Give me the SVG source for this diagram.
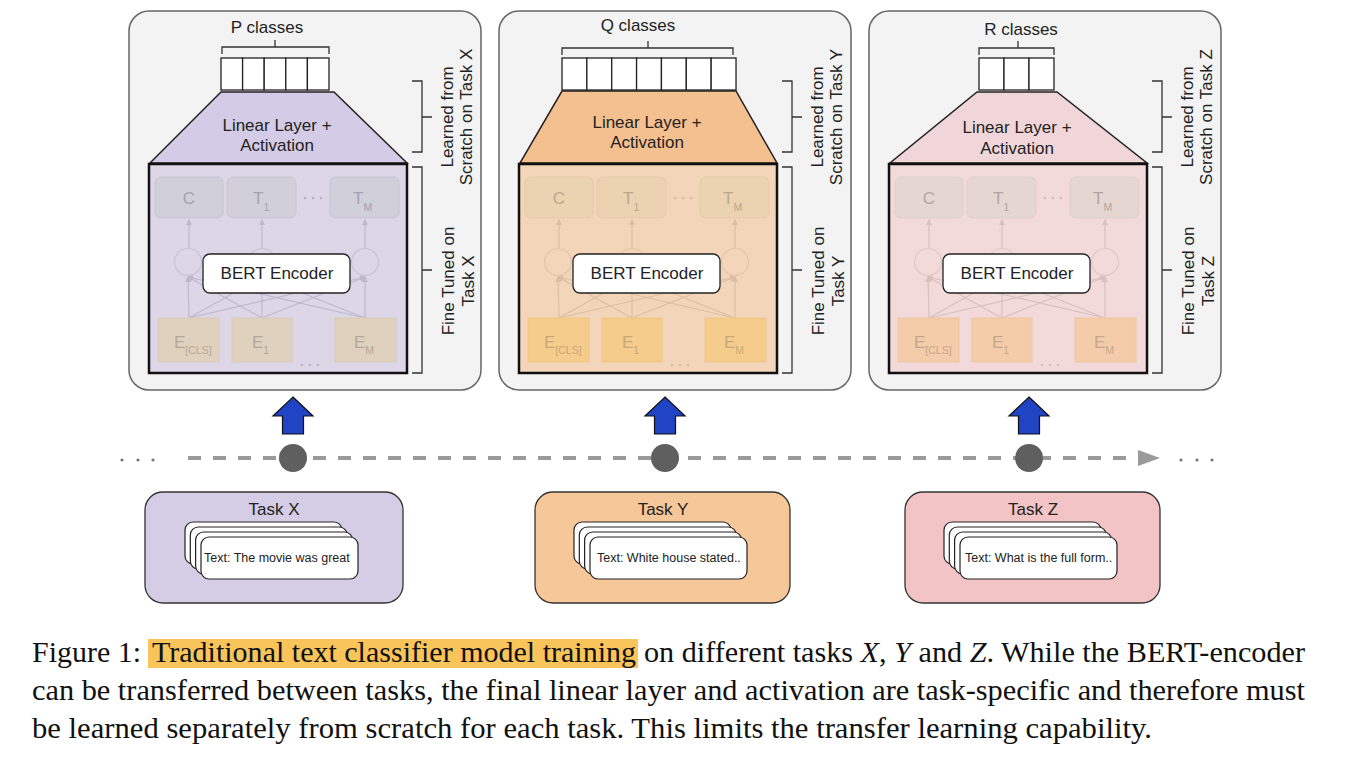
<svg xmlns="http://www.w3.org/2000/svg" width="1354" height="769" viewBox="0 0 1354 769">
<style>
text{font-family:"Liberation Sans",Arial,sans-serif;fill:#222}
.panel{fill:#f3f3f3;stroke:#666;stroke-width:1.5}
.lbl{font-size:17px;text-anchor:middle}
.rot{font-size:17px;text-anchor:middle}
.brk{fill:none;stroke:#333;stroke-width:1.3}
.cls{fill:#fff;stroke:#222;stroke-width:1.3}
.trap{stroke:#222;stroke-width:1.5}
.enc{stroke:#111;stroke-width:2.5}
.bert{fill:#fff;stroke:#222;stroke-width:1.3}
.sm{font-size:17px}
.sub{font-size:10.5px}
.task{stroke:#333;stroke-width:1.3}
.card{fill:#fff;stroke:#222;stroke-width:1.2}
.ctext{font-size:12.5px}
.cap{font-family:"Liberation Serif","Times New Roman",serif;font-size:30px;fill:#111}
.blue{fill:#2144c4;stroke:#111;stroke-width:1.2}
.dot{fill:#5f5f5f}
.tl{stroke:#9a9a9a;stroke-width:4;stroke-dasharray:13 12;fill:none}
.gd{fill:#777}
</style>
<defs>
<marker id="m1" markerWidth="6" markerHeight="6" refX="5" refY="3" orient="auto" markerUnits="userSpaceOnUse"><path d="M0,0 L6,3 L0,6z" fill="#bdb8cb"/></marker>
<marker id="m2" markerWidth="6" markerHeight="6" refX="5" refY="3" orient="auto" markerUnits="userSpaceOnUse"><path d="M0,0 L6,3 L0,6z" fill="#dcbfa3"/></marker>
<marker id="m3" markerWidth="6" markerHeight="6" refX="5" refY="3" orient="auto" markerUnits="userSpaceOnUse"><path d="M0,0 L6,3 L0,6z" fill="#d8c0c0"/></marker>
</defs>

<!-- Panel X -->
<g id="panel-x">
<rect class="panel" x="129" y="11" width="352" height="379" rx="20"/>
<text class="lbl" x="267" y="33">P classes</text>
<path class="brk" d="M222,54 V47 H329 V54 M275,47 V40"/>
<g id="classes-p">
<rect class="cls" x="221" y="58" width="21.6" height="32"/>
<rect class="cls" x="242.6" y="58" width="21.6" height="32"/>
<rect class="cls" x="264.2" y="58" width="21.6" height="32"/>
<rect class="cls" x="285.8" y="58" width="21.6" height="32"/>
<rect class="cls" x="307.4" y="58" width="21.6" height="32"/>
</g>
<g id="linear-x">
<polygon class="trap" fill="#d4cbe6" points="221,92 334,92 407,163 150,163"/>
<text class="lbl" x="277" y="131">Linear Layer +</text>
<text class="lbl" x="277" y="151">Activation</text>
</g>
<g id="encoder-x">
<rect class="enc" fill="#dcd6e7" x="149" y="164" width="258" height="209"/>
<g fill="#d1cfda" stroke="#c7c4d3" stroke-width="1">
<rect x="155" y="177" width="68" height="41" rx="6"/>
<rect x="227" y="177" width="69" height="41" rx="6"/>
<rect x="330" y="177" width="69" height="41" rx="6"/>
</g>
<g style="fill:#a4a3ae">
<text class="sm" x="189" y="204" text-anchor="middle" style="fill:#a4a3ae">C</text>
<text class="sm" x="253" y="204" style="fill:#a4a3ae">T<tspan class="sub" dy="7">1</tspan></text>
<text class="sm" x="353" y="204" style="fill:#a4a3ae">T<tspan class="sub" dy="7">M</tspan></text>
</g>
<circle cx="305" cy="198" r="1.3" fill="#b5b2c0"/><circle cx="313" cy="198" r="1.3" fill="#b5b2c0"/><circle cx="321" cy="198" r="1.3" fill="#b5b2c0"/>
<g stroke="#bdb8cb" stroke-width="1.2" fill="none" marker-end="url(#m1)">
<path d="M189,248 V220"/><path d="M262,248 V220"/><path d="M365,248 V220"/>
<path d="M189,318 L188,277"/><path d="M189,318 L262,277"/><path d="M189,318 L365,277"/>
<path d="M262,318 L188,277"/><path d="M262,318 L262,277"/><path d="M262,318 L365,277"/>
<path d="M365,318 L188,277"/><path d="M365,318 L262,277"/><path d="M365,318 L365,277"/>
</g>
<g fill="none" stroke="#c8c3d3" stroke-width="1.2">
<circle cx="188" cy="262" r="13.5"/><circle cx="262" cy="262" r="13.5"/><circle cx="365" cy="262" r="13.5"/>
</g>
<rect class="bert" x="203" y="254" width="147" height="39" rx="7"/>
<text class="lbl" x="277" y="279">BERT Encoder</text>
<g fill="#e0d1be" stroke="#d9cbb9" stroke-width="1">
<rect x="158" y="318" width="61" height="44"/>
<rect x="232" y="318" width="60" height="44"/>
<rect x="335" y="318" width="61" height="44"/>
</g>
<text class="sm" x="174" y="348" style="fill:#b3a898">E<tspan class="sub" dy="6">[CLS]</tspan></text>
<text class="sm" x="252" y="348" style="fill:#b3a898">E<tspan class="sub" dy="6">1</tspan></text>
<text class="sm" x="354" y="348" style="fill:#b3a898">E<tspan class="sub" dy="6">M</tspan></text>
<circle cx="302" cy="365" r="1.2" fill="#b5b2c0"/><circle cx="310" cy="365" r="1.2" fill="#b5b2c0"/><circle cx="318" cy="365" r="1.2" fill="#b5b2c0"/>
</g>
<path class="brk" d="M412,81 H422 V152 H412 M422,117 H432"/>
<path class="brk" d="M412,167 H422 V373 H412 M422,270 H432"/>
<text class="rot" transform="translate(453,117) rotate(-90)">Learned from</text>
<text class="rot" transform="translate(472,117) rotate(-90)">Scratch on Task X</text>
<text class="rot" transform="translate(454,281) rotate(-90)">Fine Tuned on</text>
<text class="rot" transform="translate(474,281) rotate(-90)">Task X</text>
</g>

<!-- Panel Y -->
<g id="panel-y">
<rect class="panel" x="499" y="11" width="352" height="379" rx="20"/>
<text class="lbl" x="638" y="31">Q classes</text>
<path class="brk" d="M562,55 V48 H733 V55 M648,48 V41"/>
<g id="classes-q">
<rect class="cls" x="562" y="58" width="24.86" height="32"/>
<rect class="cls" x="586.86" y="58" width="24.86" height="32"/>
<rect class="cls" x="611.72" y="58" width="24.86" height="32"/>
<rect class="cls" x="636.58" y="58" width="24.86" height="32"/>
<rect class="cls" x="661.44" y="58" width="24.86" height="32"/>
<rect class="cls" x="686.3" y="58" width="24.86" height="32"/>
<rect class="cls" x="711.16" y="58" width="24.86" height="32"/>
</g>
<g id="linear-y">
<polygon class="trap" fill="#f5c08f" points="562,91 736,91 777,163 520,163"/>
<text class="lbl" x="647" y="128">Linear Layer +</text>
<text class="lbl" x="647" y="148">Activation</text>
</g>
<g id="encoder-y" transform="translate(370,0)">
<rect class="enc" fill="#f3d5b9" x="149" y="164" width="258" height="209"/>
<g fill="#ebd3b2" stroke="#e4cba9" stroke-width="1">
<rect x="155" y="177" width="68" height="41" rx="6"/>
<rect x="227" y="177" width="69" height="41" rx="6"/>
<rect x="330" y="177" width="69" height="41" rx="6"/>
</g>
<text class="sm" x="189" y="204" text-anchor="middle" style="fill:#bba68b">C</text>
<text class="sm" x="253" y="204" style="fill:#bba68b">T<tspan class="sub" dy="7">1</tspan></text>
<text class="sm" x="353" y="204" style="fill:#bba68b">T<tspan class="sub" dy="7">M</tspan></text>
<circle cx="305" cy="198" r="1.3" fill="#d2bba0"/><circle cx="313" cy="198" r="1.3" fill="#d2bba0"/><circle cx="321" cy="198" r="1.3" fill="#d2bba0"/>
<g stroke="#dcbfa3" stroke-width="1.2" fill="none" marker-end="url(#m2)">
<path d="M189,248 V220"/><path d="M262,248 V220"/><path d="M365,248 V220"/>
<path d="M189,318 L188,277"/><path d="M189,318 L262,277"/><path d="M189,318 L365,277"/>
<path d="M262,318 L188,277"/><path d="M262,318 L262,277"/><path d="M262,318 L365,277"/>
<path d="M365,318 L188,277"/><path d="M365,318 L262,277"/><path d="M365,318 L365,277"/>
</g>
<g fill="none" stroke="#e2c6aa" stroke-width="1.2">
<circle cx="188" cy="262" r="13.5"/><circle cx="262" cy="262" r="13.5"/><circle cx="365" cy="262" r="13.5"/>
</g>
<rect class="bert" x="203" y="254" width="147" height="39" rx="7"/>
<text class="lbl" x="277" y="279">BERT Encoder</text>
<g fill="#f6cc8c" stroke="#f0c585" stroke-width="1">
<rect x="158" y="318" width="61" height="44"/>
<rect x="232" y="318" width="60" height="44"/>
<rect x="335" y="318" width="61" height="44"/>
</g>
<text class="sm" x="174" y="348" style="fill:#c8a875">E<tspan class="sub" dy="6">[CLS]</tspan></text>
<text class="sm" x="252" y="348" style="fill:#c8a875">E<tspan class="sub" dy="6">1</tspan></text>
<text class="sm" x="354" y="348" style="fill:#c8a875">E<tspan class="sub" dy="6">M</tspan></text>
<circle cx="302" cy="365" r="1.2" fill="#d2bba0"/><circle cx="310" cy="365" r="1.2" fill="#d2bba0"/><circle cx="318" cy="365" r="1.2" fill="#d2bba0"/>
</g>
<g transform="translate(370,0)">
<path class="brk" d="M412,81 H422 V152 H412 M422,117 H432"/>
<path class="brk" d="M412,167 H422 V373 H412 M422,270 H432"/>
<text class="rot" transform="translate(453,117) rotate(-90)">Learned from</text>
<text class="rot" transform="translate(472,117) rotate(-90)">Scratch on Task Y</text>
<text class="rot" transform="translate(454,281) rotate(-90)">Fine Tuned on</text>
<text class="rot" transform="translate(474,281) rotate(-90)">Task Y</text>
</g>
</g>

<!-- Panel Z -->
<g id="panel-z">
<rect class="panel" x="869" y="11" width="352" height="379" rx="20"/>
<text class="lbl" x="1021" y="35">R classes</text>
<path class="brk" d="M979,55 V48 H1054 V55 M1018,48 V41"/>
<g id="classes-r">
<rect class="cls" x="979" y="58" width="25" height="32"/>
<rect class="cls" x="1004" y="58" width="25" height="32"/>
<rect class="cls" x="1029" y="58" width="25" height="32"/>
</g>
<g id="linear-z">
<polygon class="trap" fill="#f1d6d9" points="977,92 1057,92 1147,163 890,163"/>
<text class="lbl" x="1017" y="133">Linear Layer +</text>
<text class="lbl" x="1017" y="154">Activation</text>
</g>
<g id="encoder-z" transform="translate(740,0)">
<rect class="enc" fill="#f2dadb" x="149" y="164" width="258" height="209"/>
<g fill="#e5d6d1" stroke="#dfcfca" stroke-width="1">
<rect x="155" y="177" width="68" height="41" rx="6"/>
<rect x="227" y="177" width="69" height="41" rx="6"/>
<rect x="330" y="177" width="69" height="41" rx="6"/>
</g>
<text class="sm" x="189" y="204" text-anchor="middle" style="fill:#b4a4a1">C</text>
<text class="sm" x="253" y="204" style="fill:#b4a4a1">T<tspan class="sub" dy="7">1</tspan></text>
<text class="sm" x="353" y="204" style="fill:#b4a4a1">T<tspan class="sub" dy="7">M</tspan></text>
<circle cx="305" cy="198" r="1.3" fill="#cdb9b8"/><circle cx="313" cy="198" r="1.3" fill="#cdb9b8"/><circle cx="321" cy="198" r="1.3" fill="#cdb9b8"/>
<g stroke="#d8c0c0" stroke-width="1.2" fill="none" marker-end="url(#m3)">
<path d="M189,248 V220"/><path d="M262,248 V220"/><path d="M365,248 V220"/>
<path d="M189,318 L188,277"/><path d="M189,318 L262,277"/><path d="M189,318 L365,277"/>
<path d="M262,318 L188,277"/><path d="M262,318 L262,277"/><path d="M262,318 L365,277"/>
<path d="M365,318 L188,277"/><path d="M365,318 L262,277"/><path d="M365,318 L365,277"/>
</g>
<g fill="none" stroke="#dfc8c8" stroke-width="1.2">
<circle cx="188" cy="262" r="13.5"/><circle cx="262" cy="262" r="13.5"/><circle cx="365" cy="262" r="13.5"/>
</g>
<rect class="bert" x="203" y="254" width="147" height="39" rx="7"/>
<text class="lbl" x="277" y="279">BERT Encoder</text>
<g fill="#f4cca9" stroke="#eec4a2" stroke-width="1">
<rect x="158" y="318" width="61" height="44"/>
<rect x="232" y="318" width="60" height="44"/>
<rect x="335" y="318" width="61" height="44"/>
</g>
<text class="sm" x="174" y="348" style="fill:#c5a58d">E<tspan class="sub" dy="6">[CLS]</tspan></text>
<text class="sm" x="252" y="348" style="fill:#c5a58d">E<tspan class="sub" dy="6">1</tspan></text>
<text class="sm" x="354" y="348" style="fill:#c5a58d">E<tspan class="sub" dy="6">M</tspan></text>
<circle cx="302" cy="365" r="1.2" fill="#cdb9b8"/><circle cx="310" cy="365" r="1.2" fill="#cdb9b8"/><circle cx="318" cy="365" r="1.2" fill="#cdb9b8"/>
</g>
<g transform="translate(740,0)">
<path class="brk" d="M412,81 H422 V152 H412 M422,117 H432"/>
<path class="brk" d="M412,167 H422 V373 H412 M422,270 H432"/>
<text class="rot" transform="translate(453,117) rotate(-90)">Learned from</text>
<text class="rot" transform="translate(472,117) rotate(-90)">Scratch on Task Z</text>
<text class="rot" transform="translate(454,281) rotate(-90)">Fine Tuned on</text>
<text class="rot" transform="translate(474,281) rotate(-90)">Task Z</text>
</g>
</g>

<!-- Connectors: timeline and upward arrows -->
<g id="connectors">
<path class="tl" d="M188,458 H1140"/>
<polygon points="1138,450 1160,458 1138,466" fill="#9a9a9a"/>
<circle class="gd" cx="122" cy="460" r="1.6"/><circle class="gd" cx="138" cy="460" r="1.6"/><circle class="gd" cx="153" cy="460" r="1.6"/>
<circle class="gd" cx="1181" cy="460" r="1.6"/><circle class="gd" cx="1197" cy="460" r="1.6"/><circle class="gd" cx="1212" cy="460" r="1.6"/>
<polygon class="blue" points="293,397 313,416 303.5,416 303.5,434 282.5,434 282.5,416 273,416"/>
<polygon class="blue" points="665,397 685,416 675.5,416 675.5,434 654.5,434 654.5,416 645,416"/>
<polygon class="blue" points="1029,397 1049,416 1039.5,416 1039.5,434 1018.5,434 1018.5,416 1009,416"/>
</g>
<g id="step-x"><circle class="dot" cx="293" cy="458" r="14"/></g>
<g id="step-y"><circle class="dot" cx="665" cy="458" r="14"/></g>
<g id="step-z"><circle class="dot" cx="1029" cy="458" r="14"/></g>

<!-- Task boxes -->
<g id="task-x">
<rect class="task" fill="#d5cde5" x="145" y="492" width="258" height="111" rx="18"/>
<text class="lbl" x="274" y="515">Task X</text>
<rect class="card" x="185" y="522" width="157" height="42" rx="8"/>
<rect class="card" x="190.3" y="527" width="157" height="42" rx="8"/>
<rect class="card" x="195.6" y="532" width="157" height="42" rx="8"/>
<rect class="card" x="201" y="537" width="157" height="42" rx="8"/>
<text class="ctext" x="204" y="562">Text: The movie was great</text>
</g>
<g id="task-y">
<rect class="task" fill="#f6c799" x="535" y="492" width="255" height="111" rx="18"/>
<text class="lbl" x="663" y="515">Task Y</text>
<rect class="card" x="574" y="522" width="157" height="42" rx="8"/>
<rect class="card" x="579.3" y="527" width="157" height="42" rx="8"/>
<rect class="card" x="584.6" y="532" width="157" height="42" rx="8"/>
<rect class="card" x="590" y="537" width="157" height="42" rx="8"/>
<text class="ctext" x="597" y="562">Text: White house stated..</text>
</g>
<g id="task-z">
<rect class="task" fill="#f2c4c6" x="905" y="492" width="255" height="111" rx="18"/>
<text class="lbl" x="1033" y="515">Task Z</text>
<rect class="card" x="944" y="522" width="157" height="42" rx="8"/>
<rect class="card" x="949.3" y="527" width="157" height="42" rx="8"/>
<rect class="card" x="954.6" y="532" width="157" height="42" rx="8"/>
<rect class="card" x="960" y="537" width="157" height="42" rx="8"/>
<text class="ctext" x="965" y="562">Text: What is the full form..</text>
</g>

<!-- Caption -->
<g id="caption">
<rect x="148" y="639" width="490" height="29" fill="#f9c55b"/>
<text class="cap" x="32" y="662" textLength="109" lengthAdjust="spacingAndGlyphs">Figure 1:</text>
<text class="cap" x="152" y="662" textLength="484" lengthAdjust="spacingAndGlyphs">Traditional text classifier model training</text>
<text class="cap" x="644" y="662" textLength="661" lengthAdjust="spacingAndGlyphs">on different tasks <tspan font-style="italic">X</tspan>, <tspan font-style="italic">Y</tspan> and <tspan font-style="italic">Z</tspan>. While the BERT-encoder</text>
<text class="cap" x="32" y="700" textLength="1273" lengthAdjust="spacingAndGlyphs">can be transferred between tasks, the final linear layer and activation are task-specific and therefore must</text>
<text class="cap" x="32" y="738" textLength="1120" lengthAdjust="spacingAndGlyphs">be learned separately from scratch for each task. This limits the transfer learning capability.</text>
</g>
</svg>
